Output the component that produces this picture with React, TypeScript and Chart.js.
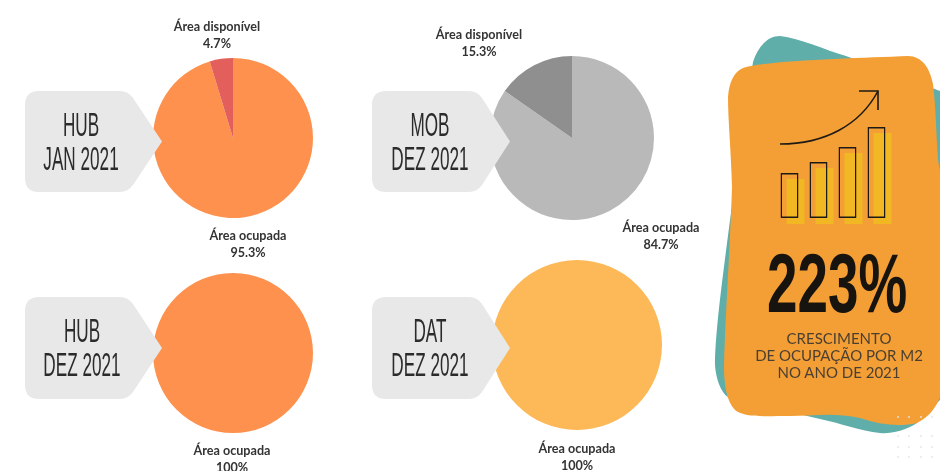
import React, { useEffect, useRef } from "react";
import { Chart, registerables } from "chart.js";

Chart.register(...registerables);

const sliceLabels = ["Área ocupada", "Área disponível"];
const hubJanValues = [95.3, 4.7];
const mobDezValues = [84.7, 15.3];
const hubDezValues = [100, 0];
const datDezValues = [100, 0];
const iconBarValues = [45, 56, 71, 91];
const iconCategories = ["a", "b", "c", "d"];

const pies = [
  { values: hubJanValues, colors: ["#FE914D", "#E35F5C"], cx: 232.5, cy: 138, r: 80 },
  { values: mobDezValues, colors: ["#B9B9B9", "#8F8F8F"], cx: 572, cy: 138, r: 82 },
  { values: hubDezValues, colors: ["#FE914D", "#E35F5C"], cx: 233, cy: 353, r: 80 },
  { values: datDezValues, colors: ["#FDB958", "#FDB958"], cx: 577, cy: 344.5, r: 85 },
];

const pieLabels = [
  { l: "Área disponível", v: "4.7%", x: 217, y: 26 },
  { l: "Área ocupada", v: "95.3%", x: 248, y: 235 },
  { l: "Área disponível", v: "15.3%", x: 479, y: 34 },
  { l: "Área ocupada", v: "84.7%", x: 661, y: 227 },
  { l: "Área ocupada", v: "100%", x: 232, y: 450 },
  { l: "Área ocupada", v: "100%", x: 577, y: 448 },
];

const callouts = [
  { a: "HUB", b: "JAN 2021", left: 25, top: 91, corner: 128, tip: 162, bottom: 192, tx: 81 },
  { a: "MOB", b: "DEZ 2021", left: 372, top: 91, corner: 477, tip: 510, bottom: 192, tx: 430 },
  { a: "HUB", b: "DEZ 2021", left: 25, top: 297, corner: 128, tip: 162, bottom: 399, tx: 82 },
  { a: "DAT", b: "DEZ 2021", left: 372, top: 297, corner: 477, tip: 510, bottom: 399, tx: 430 },
];

function Pie({ values, colors, cx, cy, r }: { values: number[]; colors: string[]; cx: number; cy: number; r: number }) {
  const ref = useRef<HTMLCanvasElement>(null);
  useEffect(() => {
    const chart = new Chart(ref.current!, {
      type: "pie",
      data: {
        labels: sliceLabels,
        datasets: [{ data: values, backgroundColor: colors, borderWidth: 0 }],
      },
      options: {
        animation: false,
        responsive: false,
        layout: { padding: 0 },
        plugins: { legend: { display: false }, tooltip: { enabled: false } },
      },
    });
    return () => chart.destroy();
  }, []);
  return (
    <canvas
      ref={ref}
      width={r * 2}
      height={r * 2}
      style={{ position: "absolute", left: cx - r, top: cy - r, width: r * 2, height: r * 2 }}
    />
  );
}

function IconBars({ left, top, fill, stroke }: { left: number; top: number; fill: string; stroke: string }) {
  const ref = useRef<HTMLCanvasElement>(null);
  useEffect(() => {
    const chart = new Chart(ref.current!, {
      type: "bar",
      data: {
        labels: iconCategories,
        datasets: [
          {
            data: iconBarValues,
            backgroundColor: fill,
            borderColor: stroke,
            borderWidth: stroke === "transparent" ? 0 : 1.5,
            borderSkipped: false,
            categoryPercentage: 1,
            barPercentage: 0.62,
          },
        ],
      },
      options: {
        animation: false,
        responsive: false,
        layout: { padding: 0 },
        plugins: { legend: { display: false }, tooltip: { enabled: false } },
        scales: {
          x: { display: false },
          y: { display: false, min: 0, max: 100 },
        },
      },
    });
    return () => chart.destroy();
  }, []);
  return (
    <canvas
      ref={ref}
      width={116}
      height={100}
      style={{ position: "absolute", left, top, width: 116, height: 100 }}
    />
  );
}

const cardPath =
  "M743 68 C770 60 860 58 908 56 C922 56 930 68 933 84 C936 110 936 130 938 160 L944 190 L944 385 C940 402 932 416 917 423 C900 427 880 425 860 418 C835 412 810 416 790 416 C765 416 745 418 735 410 C727 402 724 385 724 367 C725 320 730 250 732 187 C731 150 728 120 728 97 C729 82 734 72 743 68 Z";
const tealPath =
  "M753 62 C758 46 768 36 780 36 C800 38 825 50 846 56 L932 88 L945 93 L945 395 L917 423 C905 431 890 434 880 433 C860 431 840 423 820 419 L730 398 C722 395 716 380 715 365 C715 330 725 260 730 220 Z";

const dotXs = [898, 909, 921, 932];
const dotYs = [417, 436, 447, 457];

export default function App() {
  useEffect(() => {
    document.body.style.margin = "0";
    document.body.style.background = "#fff";
  }, []);

  return (
    <div
      style={{
        position: "fixed",
        left: 0,
        top: 0,
        width: 940,
        height: 471,
        overflow: "hidden",
        background: "#fff",
        filter: "blur(0.4px)",
      }}
    >
      {pies.map((p, i) => (
        <Pie key={i} {...p} />
      ))}

      <svg width={940} height={471} style={{ position: "absolute", left: 0, top: 0 }}>
        {callouts.map((c, i) => (
          <path
            key={i}
            fill="#E8E8E8"
            d={`M${c.left + 14} ${c.top} L${c.corner - 8} ${c.top} Q${c.corner} ${c.top} ${c.corner + 5} ${c.top + 7} L${c.tip} ${(c.top + c.bottom) / 2} L${c.corner + 5} ${c.bottom - 7} Q${c.corner} ${c.bottom} ${c.corner - 8} ${c.bottom} L${c.left + 14} ${c.bottom} Q${c.left} ${c.bottom} ${c.left} ${c.bottom - 14} L${c.left} ${c.top + 14} Q${c.left} ${c.top} ${c.left + 14} ${c.top} Z`}
          />
        ))}
        <path d={tealPath} fill="#5FAEA9" />
        <path d={cardPath} fill="#F49F35" />
        {dotXs.map((x) =>
          dotYs.map((y) => <circle key={`${x}-${y}`} cx={x} cy={y} r={0.9} fill="#E6E6E6" />)
        )}
      </svg>

      {callouts.map((c, i) => (
        <div
          key={i}
          style={{
            position: "absolute",
            left: c.tx - 80,
            top: c.top + 17,
            width: 160,
            textAlign: "center",
            fontFamily: '"Liberation Sans Narrow", "Liberation Sans", sans-serif',
            fontSize: 33,
            lineHeight: "34px",
            color: "#2b2b2b",
            transform: "scaleX(0.52)",
            whiteSpace: "nowrap",
          }}
        >
          <div>{c.a}</div>
          <div>{c.b}</div>
        </div>
      ))}

      {pieLabels.map((t, i) => (
        <div
          key={i}
          style={{
            position: "absolute",
            left: t.x - 70,
            top: t.y - 8,
            width: 140,
            textAlign: "center",
            fontFamily: "Lato, sans-serif",
            fontWeight: 700,
            fontSize: 12.6,
            lineHeight: "17px",
            color: "#333",
            whiteSpace: "nowrap",
          }}
        >
          <div>{t.l}</div>
          <div>{t.v}</div>
        </div>
      ))}

      <IconBars left={781} top={124} fill="#F2B824" stroke="transparent" />
      <IconBars left={775} top={118} fill="transparent" stroke="#1d1a16" />
      <svg width={940} height={471} style={{ position: "absolute", left: 0, top: 0 }}>
        <path d="M780 144 C825 144 860 125 878 91" fill="none" stroke="#1d1a16" strokeWidth={1.6} />
        <path d="M859 91 L878 91 L878 110" fill="none" stroke="#1d1a16" strokeWidth={1.6} />
      </svg>

      <div
        style={{
          position: "absolute",
          left: 733,
          top: 240,
          width: 200,
          textAlign: "center",
          fontFamily: '"Liberation Sans Narrow", "Liberation Sans", sans-serif',
          fontWeight: 700,
          fontSize: 83,
          lineHeight: "88px",
          color: "#17130e",
          transform: "scaleX(0.66)",
          whiteSpace: "nowrap",
        }}
      >
        223%
      </div>
      <div
        style={{
          position: "absolute",
          left: 739,
          top: 330,
          width: 200,
          textAlign: "center",
          fontFamily: "Lato, sans-serif",
          fontSize: 15,
          lineHeight: "17px",
          color: "#4a3f30",
          whiteSpace: "nowrap",
        }}
      >
        <div>CRESCIMENTO</div>
        <div>DE OCUPAÇÃO POR M2</div>
        <div>NO ANO DE 2021</div>
      </div>
    </div>
  );
}
